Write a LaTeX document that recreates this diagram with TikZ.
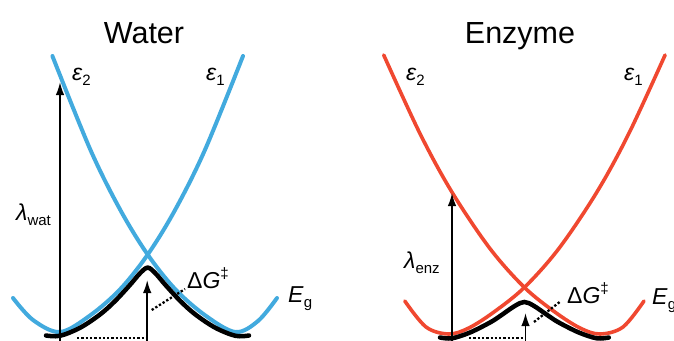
\documentclass[tikz,border=0pt]{standalone}
\usepackage{fontspec}
\setmainfont{Liberation Sans}
\usetikzlibrary{arrows.meta}
\definecolor{wblue}{RGB}{66,170,222}
\definecolor{ered}{RGB}{240,72,48}
\newcommand{\lsub}[1]{\raisebox{-0.22em}{\fontsize{15}{16}\selectfont #1}}
\newcommand{\lsup}[1]{\raisebox{0.42em}{\fontsize{15}{16}\selectfont #1}}
\begin{document}
\begin{tikzpicture}[x=1pt,y=-1pt,
  wcurve/.style={draw=wblue,line width=4pt,line cap=round},
  ecurve/.style={draw=ered,line width=3.6pt,line cap=round},
  gcurve/.style={draw=black,line width=4.5pt,line cap=round},
  upar/.style={draw=black,line width=1.7pt,-{Latex[length=13pt,width=8.5pt]}},
  dotline/.style={draw=black,line width=2.3pt,dash pattern=on 2.3pt off 2pt},
  lab/.style={font=\fontsize{23}{25}\selectfont,inner sep=0pt,anchor=base west},
  ttl/.style={font=\fontsize{30.5}{34}\selectfont,inner sep=0pt,anchor=base}]
\useasboundingbox (0,0) rectangle (674,340);
\clip (0,0) rectangle (674,340);

% ---------------- Water panel ----------------
\node[ttl] (wtitle) at (144,43) {Water};
\draw[wcurve] plot[smooth,tension=0.55] coordinates {(13,298) (33,320) (60,332) (90,315.5) (120,289.4) (147.7,254.6) (175,210.1) (205,149.8) (243,56)};
\draw[wcurve] plot[smooth,tension=0.55] coordinates {(52.4,56) (90.4,149.8) (120.4,210.1) (147.7,254.6) (175.4,289.4) (205.4,315.5) (235.4,332) (258,321) (277,298)};
\draw[gcurve] plot[smooth,tension=0.55] coordinates {(46,335.5) (60,335.8) (80,327.8) (100,314.5) (115,301.1) (130,284.9) (140,273.3) (147.7,267.6) (155.4,273.3) (165.4,284.9) (180.4,301.1) (195.4,314.5) (215.4,327.8) (235.4,335.8) (249,335.5)};

\coordinate (wlb) at (60,342);
\coordinate (wlt) at (60,82);
\draw[upar] (wlb) -- (wlt);
\coordinate (wgb) at (147.2,342);
\coordinate (wgt) at (147.2,280);
\draw[upar] (wgb) -- (wgt);
\coordinate (wd1) at (77,338);
\coordinate (wd2) at (146,338);
\draw[dotline] (wd1) -- (wd2);
\coordinate (wd3) at (151.7,310);
\coordinate (wd4) at (185,289);
\draw[dotline] (wd3) -- (wd4);

\node[lab] (we2) at (72,80) {\itshape ε\upshape\lsub{2}};
\node[lab] (we1) at (206,80) {\itshape ε\upshape\lsub{1}};
\node[lab] (wlam) at (16,220) {\itshape λ\upshape\lsub{wat}};
\node[lab] (wdg) at (187,288) {Δ\textit{G}\lsup{‡}};
\node[lab] (weg) at (288,302) {\textit{E}\lsub{g}};

% ---------------- Enzyme panel ----------------
\node[ttl] (etitle) at (520,43) {Enzyme};
\draw[ecurve] plot[smooth,tension=0.55] coordinates {(383.7,55) (420,133.6) (452,192.2) (490,248.6) (524.4,287.4) (555,312.1) (580,328) (600,334) (623,327) (644,301)};
\draw[ecurve] plot[smooth,tension=0.55] coordinates {(665.1,55) (628.8,133.6) (596.8,192.2) (558.8,248.6) (524.4,287.4) (493.8,312.1) (468.8,328) (448.8,334) (426,327) (404.8,301)};
\draw[gcurve] plot[smooth,tension=0.55] coordinates {(440,337.5) (452,338.3) (470,332.5) (490,322.5) (500,316.1) (515,305.8) (524.4,302) (533.8,305.8) (548.8,316.1) (558.8,322.5) (578.8,332.5) (596.8,338.3) (608.8,337.5)};

\coordinate (elb) at (452,342);
\coordinate (elt) at (452,193);
\draw[upar] (elb) -- (elt);
\coordinate (egb) at (525.5,342);
\coordinate (egt) at (525.5,313);
\draw[upar] (egb) -- (egt);
\coordinate (ed1) at (469,338);
\coordinate (ed2) at (524,338);
\draw[dotline] (ed1) -- (ed2);
\coordinate (ed3) at (534,322);
\coordinate (ed4) at (561,301);
\draw[dotline] (ed3) -- (ed4);

\node[lab] (ee2) at (406,80) {\itshape ε\upshape\lsub{2}};
\node[lab] (ee1) at (624,80) {\itshape ε\upshape\lsub{1}};
\node[lab] (elam) at (404,268) {\itshape λ\upshape\lsub{enz}};
\node[lab] (edg) at (567,303) {Δ\textit{G}\lsup{‡}};
\node[lab] (eeg) at (652,304) {\textit{E}\lsub{g}};
\end{tikzpicture}
\end{document}
